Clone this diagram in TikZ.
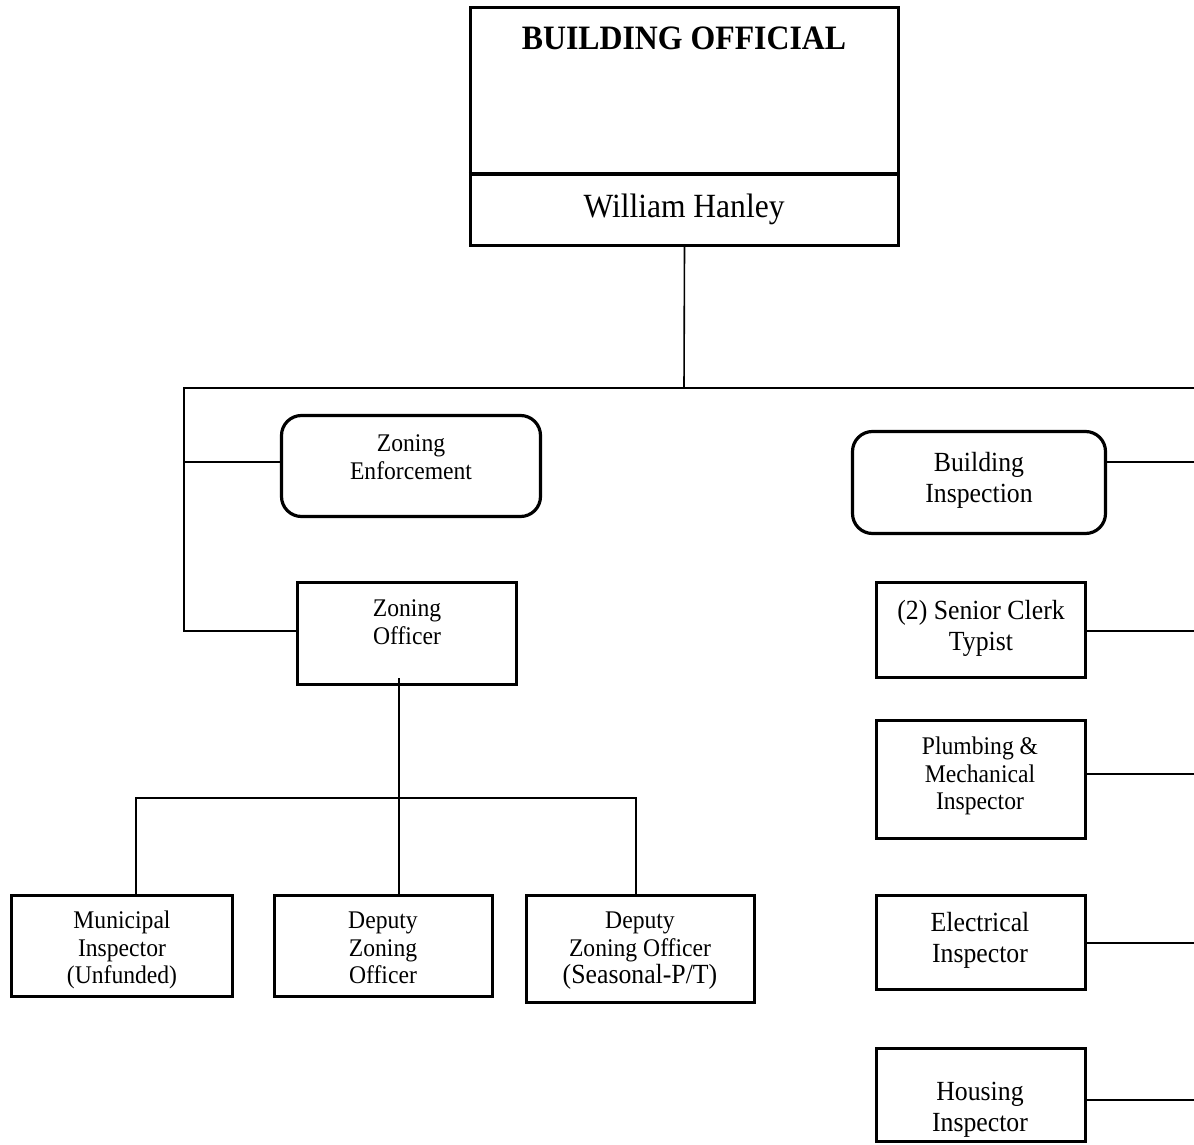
\documentclass[tikz,border=0pt]{standalone}
\usepackage{fontspec}
\setmainfont{Liberation Serif}[FakeStretch=0.93]
\begin{document}
\begin{tikzpicture}[x=1pt,y=-1pt,
  box/.style={draw, line width=3.2pt, inner sep=0pt},
  rbox/.style={box, rounded corners=20pt},
  conn/.style={line width=1.6pt},
  small/.style={align=center, inner sep=0pt, font=\fontsize{25.4}{27.5}\selectfont},
  big/.style={align=center, inner sep=0pt, font=\fontsize{27.7}{31}\selectfont}]
\fill[white] (0,0) rectangle (1194,1145);
\useasboundingbox (0,0) rectangle (1194,1145);

% head of department
\node[box, minimum width=428pt, minimum height=238pt] (bo) at (684.5,126.5) {};
\coordinate (dv) at (0,174);
\draw[line width=3.2pt] (bo.west |- dv) -- (bo.east |- dv);
\node[anchor=base, inner sep=0pt, font=\bfseries\fontsize{34.2}{36}\selectfont] (bot) at (684,50) {BUILDING OFFICIAL};
\node[anchor=base, inner sep=0pt, font=\fontsize{33.9}{36}\selectfont] (bon) at (684,217) {William Hanley};

% zoning side
\node[rbox, minimum width=259pt, minimum height=101pt] (ze) at (411,466) {};
\node[small] (zet) at (411,457) {Zoning\\Enforcement};
\node[box, minimum width=219pt, minimum height=102pt] (zo) at (407,633.5) {};
\node[small] (zot) at (407,622) {Zoning\\Officer};
\node[box, minimum width=221pt, minimum height=101pt] (mi) at (122,946) {};
\node[small] (mit) at (122,950) {Municipal\\Inspector\\(Unfunded)};
\node[box, minimum width=218pt, minimum height=101pt] (dz) at (383.5,946) {};
\node[small] (dzt) at (383,948) {Deputy\\Zoning\\Officer};
\node[box, minimum width=228pt, minimum height=107pt] (se) at (640.5,949) {};
\node[small] (set) at (640,951) {Deputy\\Zoning Officer\\{\fontsize{27.7}{29}\selectfont(Seasonal-P/T)}};

% building side
\node[rbox, minimum width=253pt, minimum height=102pt] (bi) at (979,482.5) {};
\node[big] (bit) at (979,480) {Building\\Inspection};
\node[box, minimum width=209pt, minimum height=95pt] (sc) at (981,630) {};
\node[big] (sct) at (981,628) {(2) Senior Clerk\\Typist};
\node[box, minimum width=209pt, minimum height=118pt] (pm) at (981,779.5) {};
\node[small] (pmt) at (980,776) {Plumbing \&\\Mechanical\\Inspector};
\node[box, minimum width=209pt, minimum height=94pt] (el) at (981,942.5) {};
\node[big] (elt) at (980,940) {Electrical\\Inspector};
\node[box, minimum width=209pt, minimum height=93pt] (ho) at (981,1095) {};
\node[big] (hot) at (980,1110) {Housing\\Inspector};

% main connectors
\coordinate (top) at (684,388);
\coordinate (lt) at (184,388);
\coordinate (rt) at (1194,388);
\coordinate (le) at (184,462);
\coordinate (lb) at (184,631);
\draw[conn] (bo.south) -- (top);
\draw[conn] (rt) -- (lt) -- (lb) -- (zo.west |- lb);
\draw[conn] (le) -- (ze.west |- le);

% zoning staff connectors
\coordinate (zj) at (399,798);
\coordinate (zl) at (136,798);
\coordinate (zr) at (636,798);
\draw[conn] (zj |- zo.south) ++(0,-8) -- (zj);
\draw[conn] (zl |- mi.north) -- (zl) -- (zr) -- (zr |- se.north);
\draw[conn] (zj) -- (zj |- dz.north);

% building staff connectors to the right edge
\coordinate (r1) at (1194,462);
\coordinate (r2) at (1194,631);
\coordinate (r3) at (1194,774);
\coordinate (r4) at (1194,943);
\coordinate (r5) at (1194,1100);
\draw[conn] (bi.east |- r1) -- (r1);
\draw[conn] (sc.east |- r2) -- (r2);
\draw[conn] (pm.east |- r3) -- (r3);
\draw[conn] (el.east |- r4) -- (r4);
\draw[conn] (ho.east |- r5) -- (r5);
\end{tikzpicture}
\end{document}
